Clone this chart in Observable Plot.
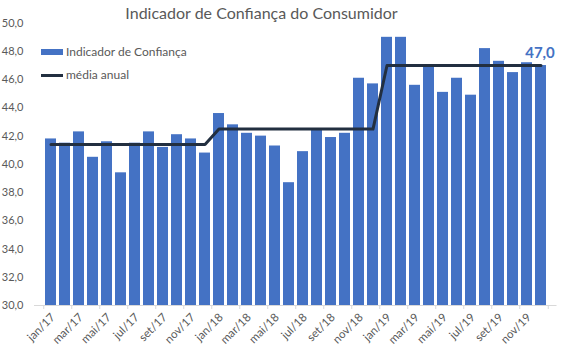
<!DOCTYPE html>
<html><head><meta charset="utf-8">
<script src="https://cdn.jsdelivr.net/npm/d3@7"></script>
<script src="https://cdn.jsdelivr.net/npm/@observablehq/plot@0.6"></script>
<style>
body{margin:0;background:#fff;font-family:Lato,sans-serif;}
#wrap{position:relative;width:567px;height:354px;overflow:hidden;}
#title{position:absolute;top:3px;left:-22px;width:567px;text-align:center;font-size:16px;color:#595959;line-height:20px;}
.lg{position:absolute;left:41px;font-size:12px;color:#595959;display:flex;align-items:center;line-height:14px;white-space:nowrap;}
.sw{display:inline-block;width:22px;margin-right:3px;}
</style></head><body>
<div id="wrap"><div id="chart"></div><div id="title">Indicador de Confiança do Consumidor</div>
<div class="lg" style="top:45px"><span class="sw" style="height:6px;background:#4472C4"></span>Indicador de Confiança</div>
<div class="lg" style="top:68px"><span class="sw" style="height:3px;background:#222f40"></span>média anual</div>
</div>
<script>
const months = ["jan/17","fev/17","mar/17","abr/17","mai/17","jun/17","jul/17","ago/17","set/17","out/17","nov/17","dez/17",
"jan/18","fev/18","mar/18","abr/18","mai/18","jun/18","jul/18","ago/18","set/18","out/18","nov/18","dez/18",
"jan/19","fev/19","mar/19","abr/19","mai/19","jun/19","jul/19","ago/19","set/19","out/19","nov/19","dez/19"];
const values = [41.8,41.5,42.3,40.5,41.6,39.4,41.5,42.3,41.2,42.1,41.8,40.8,
43.6,42.8,42.2,42.0,41.3,38.7,40.9,42.4,41.9,42.2,46.1,45.7,
49.0,49.0,45.6,46.9,45.1,46.1,44.9,48.2,47.3,46.5,47.2,47.0];
const annualMean = [41.4, 42.5, 47.0];
const yTicks = [30,32,34,36,38,40,42,44,46,48,50];
const labeledMonths = months.filter((m,i)=>i%2===0);

const data = months.map((m,i)=>({month:m, value:values[i], mean:annualMean[Math.floor(i/12)]}));
const fmt = d => d.toFixed(1).replace(".", ",");
const W = 567, ML = 34, MR = 10.5;
const step = (W-ML-MR)/months.length;

const chart = Plot.plot({
  width: W, height: 354, marginTop: 22.7, marginBottom: 49, marginLeft: ML, marginRight: MR,
  style: {fontFamily: "Lato, sans-serif", fontSize: "11px", color: "#595959", background: "white"},
  x: {domain: months, paddingInner: 0.2, paddingOuter: 0.1, axis: null, label: null},
  y: {domain: [30,50], axis: null, label: null},
  marks: [
    Plot.barY(data, {x: "month", y1: 30, y2: "value", fill: "#4472C4"}),
    Plot.ruleY([30], {stroke: "#d9d9d9"}),
    Plot.axisX({ticks: labeledMonths, tickFormat: () => "", tickSize: 4, dx: -step/2, stroke: "#d9d9d9", label: null}),
    Plot.axisX({ticks: ["dez/19"], tickFormat: () => "", tickSize: 4, dx: step/2, stroke: "#d9d9d9", label: null}),
    Plot.axisX({ticks: labeledMonths, tickSize: 0, tickPadding: 10, dx: 2, tickRotate: -45, textAnchor: "end", fill: "#595959", fontSize: 11.5, label: null}),
    Plot.axisY({ticks: yTicks, tickSize: 0, tickPadding: 11, tickFormat: fmt, fill: "#595959", fontSize: 11, label: null}),
    Plot.line(data, {x: "month", y: "mean", stroke: "#222f40", strokeWidth: 3}),
    Plot.text(data.slice(-1), {x: "month", y: "mean", text: d => fmt(d.mean), dy: -12, dx: -1, fill: "#4472C4", fontWeight: "bold", fontSize: 15})
  ]
});
document.getElementById("chart").appendChild(chart);
</script>
</body></html>
